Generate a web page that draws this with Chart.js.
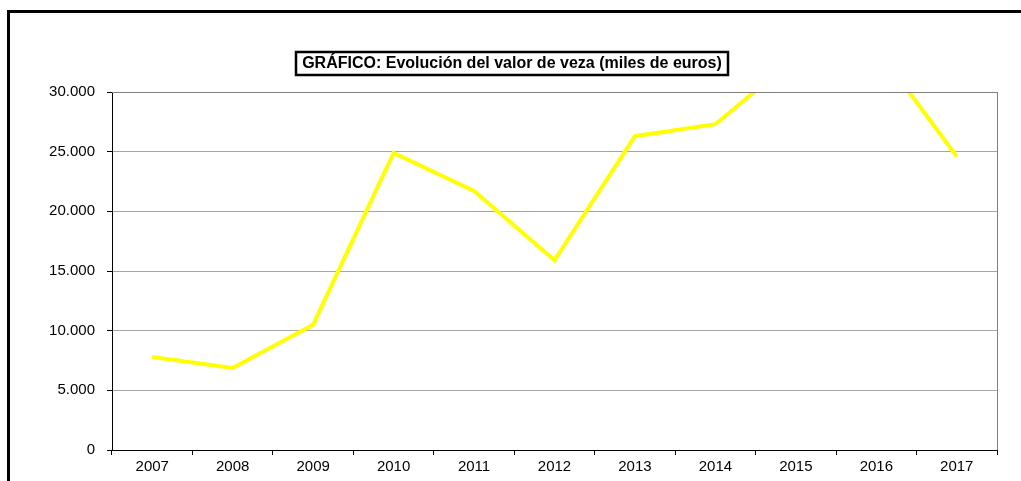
<!DOCTYPE html>
<html><head><meta charset="utf-8">
<script src="https://cdn.jsdelivr.net/npm/chart.js@4/dist/chart.umd.min.js"></script>
<style>html,body{margin:0;padding:0;background:#fff;overflow:hidden}#wrap{position:relative;width:1021px;height:481px}</style>
</head><body><div id="wrap"><canvas id="c" width="1021" height="481"></canvas></div>
<script>
const titleText = 'GRÁFICO: Evolución del valor de veza (miles de euros)';
const years = ['2007','2008','2009','2010','2011','2012','2013','2014','2015','2016','2017'];
const valores = [7800, 6870, 10500, 24900, 21700, 15900, 26300, 27300, 32900, 33700, 24600];
const yTicks = [0, 5000, 10000, 15000, 20000, 25000, 30000];

const fmt = v => String(v).replace(/\B(?=(\d{3})+(?!\d))/g, '.');

const deco = {
  id: 'deco',
  beforeDraw(chart) {
    const ctx = chart.ctx;
    ctx.save();
    ctx.fillStyle = '#fff';
    ctx.fillRect(0, 0, chart.width, chart.height);
    ctx.strokeStyle = '#000';
    ctx.lineWidth = 3;
    ctx.strokeRect(8.5, 11.5, 1100, 600);
    ctx.restore();
  },
  afterDatasetsDraw(chart) {
    const ctx = chart.ctx, a = chart.chartArea;
    ctx.save();
    ctx.strokeStyle = '#808080';
    ctx.lineWidth = 1;
    ctx.beginPath();
    ctx.moveTo(a.left, a.top + 0.5); ctx.lineTo(a.right + 0.5, a.top + 0.5);
    ctx.moveTo(a.right + 0.5, a.top); ctx.lineTo(a.right + 0.5, a.bottom);
    ctx.stroke();
    // title
    ctx.font = 'bold 16px "Liberation Sans", Arial, sans-serif';
    ctx.fillStyle = '#000';
    ctx.strokeStyle = '#000';
    ctx.textAlign = 'center';
    ctx.textBaseline = 'middle';
    const cx = 512, cy = 64;
    const w = ctx.measureText(titleText).width;
    ctx.fillText(titleText, cx, cy);
    ctx.lineWidth = 2.5;
    ctx.strokeRect(Math.round(cx - w / 2 - 6), 52, Math.round(w + 12), 23);
    ctx.restore();
  }
};

new Chart(document.getElementById('c'), {
  type: 'line',
  data: {
    labels: years,
    datasets: [{
      data: valores,
      borderColor: '#FFFF00',
      borderWidth: 4,
      pointRadius: 0,
      tension: 0,
      fill: false
    }]
  },
  options: {
    responsive: false,
    animation: false,
    events: [],
    layout: { padding: { top: 92, right: 24, left: 0, bottom: 0 } },
    plugins: { legend: { display: false }, title: { display: false }, tooltip: { enabled: false } },
    scales: {
      x: {
        offset: true,
        grid: { offset: true, drawOnChartArea: false, drawTicks: true, tickLength: 5, tickColor: '#000' },
        border: { color: '#000', width: 1 },
        ticks: { color: '#000', font: { family: '"Liberation Sans", Arial, sans-serif', size: 15 }, padding: 3, maxRotation: 0, autoSkip: false },
        afterFit(s) { s.height = 31; }
      },
      y: {
        min: 0, max: 30000,
        afterBuildTicks(s) { s.ticks = yTicks.map(v => ({ value: v })); },
        grid: { color: '#a6a6a6', tickColor: '#000', tickLength: 5, drawTicks: true },
        border: { color: '#000', width: 1 },
        ticks: { color: '#000', font: { family: '"Liberation Sans", Arial, sans-serif', size: 15 }, padding: 12, callback: v => fmt(v) },
        afterFit(s) { s.width = 112; }
      }
    }
  },
  plugins: [deco]
});
</script></body></html>
